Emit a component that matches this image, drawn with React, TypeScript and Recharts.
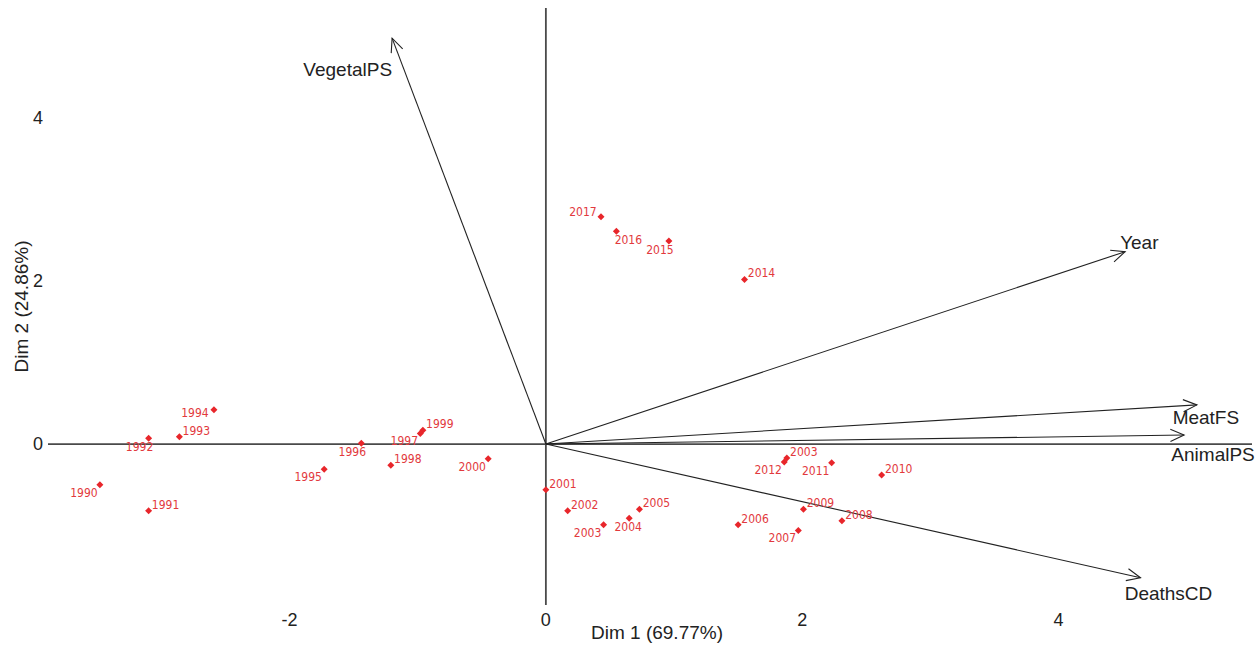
import { ScatterChart, Scatter, XAxis, YAxis, ReferenceLine } from 'recharts';

// individuals (years) on the first two dimensions
const years = ['1990', '1991', '1992', '1993', '1994', '1995', '1996', '1997', '1998', '1999', '2000', '2001', '2002', '2003', '2004', '2005', '2006', '2007', '2008', '2009', '2010', '2011', '2012', '2003', '2014', '2015', '2016', '2017'];
const dim1 = [-3.48, -3.10, -3.10, -2.86, -2.59, -1.73, -1.44, -0.98, -1.21, -0.96, -0.45, 0.0, 0.17, 0.45, 0.65, 0.73, 1.50, 1.97, 2.31, 2.01, 2.62, 2.23, 1.86, 1.88, 1.55, 0.96, 0.55, 0.43];
const dim2 = [-0.50, -0.82, 0.07, 0.09, 0.42, -0.31, 0.01, 0.13, -0.26, 0.17, -0.18, -0.56, -0.82, -0.99, -0.91, -0.80, -0.99, -1.06, -0.94, -0.80, -0.38, -0.23, -0.22, -0.17, 2.02, 2.49, 2.61, 2.79];

// variables (arrows)
const variables = ['VegetalPS', 'Year', 'MeatFS', 'AnimalPS', 'DeathsCD'];
const varDim1 = [-1.20, 4.52, 5.08, 4.98, 4.64];
const varDim2 = [4.98, 2.36, 0.48, 0.11, -1.64];

const xTicks = [-2, 0, 2, 4];
const yTicks = [0, 2, 4];

// where each year label sits around its point
const labelSide = ['sw', 'ne', 's', 'ne', 'w', 'sw', 's', 'sw', 'ne', 'ne', 'sw', 'ne', 'ne', 'sw', 'd', 'ne', 'ne', 'sw', 'ne', 'ne', 'ne', 'sw', 'sw', 'ne', 'ne', 's', 'se', 'nw'];
const sideOffset: Record<string, [number, number]> = {
  ne: [17, -6],
  nw: [-18, -5],
  sw: [-16, 8],
  s: [-9, 9],
  d: [-1, 9],
  se: [12, 9],
  w: [-19, 3],
};

// arrow label placement: anchor, dx, dy from tip
const varLabel: Record<string, [string, number, number]> = {
  VegetalPS: ['end', 0, 38],
  Year: ['start', -5, -3],
  MeatFS: ['middle', 9, 19],
  AnimalPS: ['middle', 29, 26],
  DeathsCD: ['middle', 28, 22],
};

const points = years.map((yr, i) => ({ x: dim1[i], y: dim2[i], label: yr, side: labelSide[i] }));

const font = '"Liberation Sans", Arial, sans-serif';
const red = '#e8262b';

function YearPoint(props: any) {
  const { cx, cy, payload } = props;
  const [dx, dy] = sideOffset[payload.side];
  return (
    <g>
      <path d={`M${cx},${cy - 3.5}L${cx + 3.5},${cy}L${cx},${cy + 3.5}L${cx - 3.5},${cy}Z`} fill={red} />
      <text x={cx + dx} y={cy + dy + 4} textAnchor="middle" fontSize={12} fontFamily='"DejaVu Sans Condensed", "DejaVu Sans", sans-serif' fill="#e2393d">
        {payload.label}
      </text>
    </g>
  );
}

function arrowShape(name: string) {
  return (p: any) => {
    const { x1, y1, x2, y2 } = p;
    const ang = Math.atan2(y2 - y1, x2 - x1);
    const len = 15;
    const spread = 0.42;
    const ax = x2 - len * Math.cos(ang - spread);
    const ay = y2 - len * Math.sin(ang - spread);
    const bx = x2 - len * Math.cos(ang + spread);
    const by = y2 - len * Math.sin(ang + spread);
    const [anchor, dx, dy] = varLabel[name];
    return (
      <g>
        <line x1={x1} y1={y1} x2={x2} y2={y2} stroke="#222" strokeWidth={1.1} />
        <polyline points={`${ax},${ay} ${x2},${y2} ${bx},${by}`} fill="none" stroke="#222" strokeWidth={1.1} />
        <text x={x2 + dx} y={y2 + dy} textAnchor={anchor} fontSize={19} fontFamily={font} fill="#222">
          {name}
        </text>
      </g>
    );
  };
}

export default function App() {
  return (
    <div style={{ position: 'absolute', left: 0, top: 0, background: '#fff' }}>
      <ScatterChart width={1259} height={648} margin={{ top: 8, right: 7, left: 0, bottom: 0 }}>
        <XAxis
          type="number"
          dataKey="x"
          domain={[-3.885, 5.51]}
          ticks={xTicks}
          allowDataOverflow
          axisLine={false}
          tickLine={false}
          height={43}
          tick={{ fontSize: 18, fill: '#222', fontFamily: font }}
          label={{
            content: (lp: any) => {
              const vb = lp.viewBox;
              return (
                <text x={vb.x + vb.width / 2 + 7} y={vb.y + 34} textAnchor="middle" fontSize={19} fontFamily={font} fill="#222">
                  Dim 1 (69.77%)
                </text>
              );
            },
          }}
        />
        <YAxis
          type="number"
          dataKey="y"
          domain={[-1.975, 5.35]}
          ticks={yTicks}
          allowDataOverflow
          axisLine={false}
          tickLine={false}
          width={48}
          tick={{ fontSize: 18, fill: '#222', fontFamily: font, dx: 3 }}
          label={{
            content: (lp: any) => {
              const vb = lp.viewBox;
              const cx = vb.x + 21;
              const cy = vb.y + vb.height / 2;
              return (
                <text x={cx} y={cy} transform={`rotate(-90, ${cx}, ${cy})`} textAnchor="middle" dominantBaseline="central" fontSize={19} fontFamily={font} fill="#222">
                  Dim 2 (24.86%)
                </text>
              );
            },
          }}
        />
        <ReferenceLine x={0} stroke="#4a4a4a" strokeWidth={1.8} />
        <ReferenceLine y={0} stroke="#4a4a4a" strokeWidth={1.8} />
        {variables.map((v, i) => (
          <ReferenceLine
            key={v}
            segment={[{ x: 0, y: 0 }, { x: varDim1[i], y: varDim2[i] }]}
            shape={arrowShape(v)}
          />
        ))}
        <Scatter data={points} shape={<YearPoint />} isAnimationActive={false} />
      </ScatterChart>
    </div>
  );
}
